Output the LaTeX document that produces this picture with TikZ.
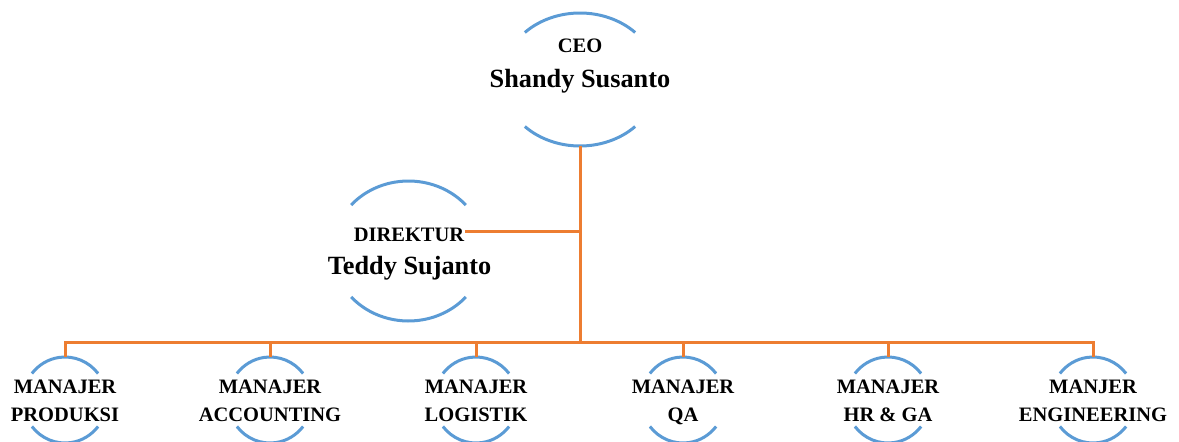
\documentclass[tikz,border=0pt]{standalone}
\usepackage{fontspec}
\setmainfont{Liberation Serif}
\usetikzlibrary{shapes.geometric,calc}
\definecolor{arcblue}{HTML}{5B9BD5}
\definecolor{linkorange}{HTML}{ED7D31}
\newcommand{\rolefont}{\fontsize{20.5}{24}\selectfont\bfseries}
\newcommand{\namefont}{\fontsize{26.3}{30}\selectfont\bfseries}
\tikzstyle{orgoval} = [ellipse, inner sep=0pt, outer sep=0pt]
\tikzstyle{orgarc} = [draw=arcblue, line width=3pt]
\tikzstyle{orglink} = [draw=linkorange, line width=3pt]
\tikzstyle{orgrole} = [font=\rolefont, anchor=base, inner sep=1pt]
\tikzstyle{orgname} = [font=\namefont, anchor=base, inner sep=1pt]
\newcommand{\orgovalnode}[5]{% #1: name; #2: centre; #3: x radius; #4: y radius; #5: arc angle
  \node[orgoval, minimum width=2*#3pt, minimum height=2*#4pt] (#1) at (#2) {};
  \draw[orgarc] ([shift={(#5:#3pt and #4pt)}] #1.center)
    arc[start angle=#5, end angle=180-#5, x radius=#3pt, y radius=#4pt];
  \draw[orgarc] ([shift={(180+#5:#3pt and #4pt)}] #1.center)
    arc[start angle=180+#5, end angle=360-#5, x radius=#3pt, y radius=#4pt];
}

\begin{document}
\begin{tikzpicture}[x=1pt, y=1pt]
        \useasboundingbox (0,0) rectangle (1179,-442);
        % top
        \orgovalnode{ceo}{580,-79.5}{78}{66.5}{45}
        \node[orgrole] (ceo-role) at (580,-52.7) {CEO};
        \node[orgname] (ceo-name) at (580,-87.3) {Shandy Susanto};
        % direktur
        \orgovalnode{dir}{408.5,-251}{76}{70}{41}
        \node[orgrole] (dir-role) at (409,-241.7) {DIREKTUR};
        \node[orgname] (dir-name) at (409.5,-274) {Teddy Sujanto};
        % manajer
        \foreach \i/\x/\role/\unit in {1/65/MANAJER/PRODUKSI, 2/270/MANAJER/ACCOUNTING,
            3/476/MANAJER/LOGISTIK, 4/683/MANAJER/QA, 5/888/MANAJER/HR \& GA,
            6/1093/MANJER/ENGINEERING} {
          \orgovalnode{m\i}{\x,-400}{42}{43}{38}
          \node[orgrole] (m\i-role) at (\x,-393.3) {\role};
          \node[orgrole] (m\i-unit) at (\x,-421.7) {\unit};
        }
        % links
        \coordinate (bar) at (580,-342);
        \draw[orglink] (ceo.south) -- (bar);
        \draw[orglink] ([yshift=4pt] dir-role.east) -- ([yshift=4pt] dir-role.east -| ceo.south);
        \draw[orglink] (m1.north) -- (m1.north |- bar) -- (m6.north |- bar) -- (m6.north);
        \foreach \i in {2,3,...,5} { \draw[orglink] (m\i.north) -- (m\i.north |- bar); }
      \end{tikzpicture}
\end{document}
